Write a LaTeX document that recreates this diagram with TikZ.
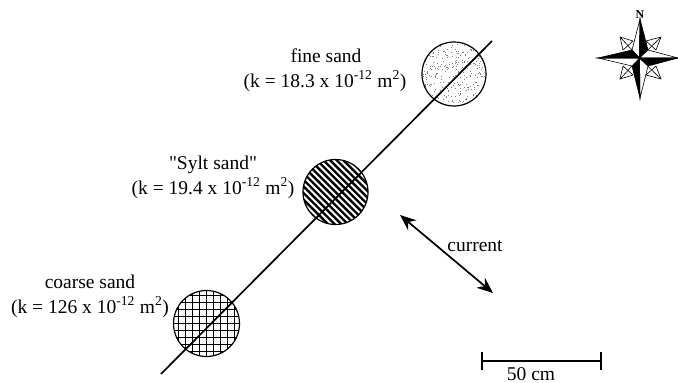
\documentclass[tikz,border=0pt]{standalone}
\usepackage{fontspec}
\setmainfont{Liberation Serif}
\newfontfamily\lblfont{Liberation Serif}
\usetikzlibrary{arrows.meta,calc}
\tikzset{
  lbl/.style={font=\lblfont\fontsize{19.5}{22}\selectfont, anchor=base, inner sep=0pt},
  sample/.style={circle, draw=black, line width=1.2pt, minimum size=#1, inner sep=0pt},
  ink/.style={line width=1.7pt, black},
  hatch/.style={line width=2.4pt, black},
  grid line/.style={line width=1.6pt, black},
  star line/.style={line width=0.6pt, black, line join=miter},
  bar/.style={line width=2.2pt, black}
}
\newcommand{\kval}[1]{(k = #1 x 10\textsuperscript{-12} m\textsuperscript{2})}
\begin{document}
\begin{tikzpicture}[x=1pt,y=-1pt]
\useasboundingbox (0,0) rectangle (678,383);
% fine sand
\node[sample=64pt, path picture={
  \pgfmathsetseed{42}
  \foreach \i in {1,...,300}{
    \pgfmathsetmacro{\dx}{round(rnd*56)*1.1-31}
    \pgfmathsetmacro{\dy}{round(rnd*56)*1.1-31}
    \fill[black!50] (\dx,\dy) rectangle ++(0.9,0.9);
  }}] (fine) at (454,74) {};
% Sylt sand
\node[sample=65pt, path picture={
  \foreach \s in {-17,...,17}{
    \draw[hatch] (-50+\s*3.3,-50-\s*3.3) -- ++(100,100);
  }}] (sylt) at (335.5,192) {};
% coarse sand
\node[sample=66pt, path picture={
  \foreach \s in {-6,...,6}{
    \draw[grid line] (\s*7,-40) -- (\s*7,40);
    \draw[grid line] (-40,\s*7) -- (40,\s*7);
  }}] (coarse) at (206.5,323.5) {};
% transect
\coordinate (tA) at (161,374);
\coordinate (tB) at (492,41);
\draw[ink] (tA) -- (tB);
% labels
\node[lbl] (lf1) at (326,62) {fine sand};
\node[lbl] (lf2) at (325,87) {\kval{18.3}};
\node[lbl] (ls1) at (213,169) {"Sylt sand"};
\node[lbl] (ls2) at (213,194) {\kval{19.4}};
\node[lbl] (lc1) at (90,288) {coarse sand};
\node[lbl] (lc2) at (90,313) {\kval{126}};
% current
\coordinate (cA) at (400,215);
\coordinate (cB) at (493,293);
\draw[ink, {Stealth[length=16pt,width=13pt]}-{Stealth[length=16pt,width=13pt]}] (cA) -- (cB);
\node[lbl] (cur) at (475,251) {current};
% scale bar
\coordinate (sA) at (482,361);
\coordinate (sB) at (601,361);
\draw[bar] (sA) -- (sB);
\draw[bar] ($(sA)+(0,-9)$) -- ($(sA)+(0,9)$);
\draw[bar] ($(sB)+(0,-9)$) -- ($(sB)+(0,9)$);
\node[lbl] (sc) at (531,380) {50 cm};
% compass
\node[font=\lblfont\fontsize{12}{12}\selectfont\bfseries, inner sep=0pt] (north) at (640,14.5) {N};
\coordinate (o) at (639.5,58);
\draw[star line, fill=white] (661,37) -- (646,41) -- (656,50) -- cycle;
\draw[star line, fill=white] (620,37) -- (633,41) -- (623,50) -- cycle;
\draw[star line, fill=white] (661,79) -- (656,66) -- (646,75) -- cycle;
\draw[star line, fill=white] (620,79) -- (623,66) -- (633,75) -- cycle;
\draw[star line] (661,37) -- (o) (620,37) -- (o) (661,79) -- (o) (620,79) -- (o);
\draw[star line, fill=white] (640,19) -- (632,50) -- (o) -- cycle;
\draw[star line, fill=black] (640,19) -- (648,50) -- (o) -- cycle;
\draw[star line, fill=white] (640,98) -- (648,66) -- (o) -- cycle;
\draw[star line, fill=black] (640,98) -- (632,66) -- (o) -- cycle;
\draw[star line, fill=white] (678,58) -- (648,50) -- (o) -- cycle;
\draw[star line, fill=black] (678,58) -- (648,66) -- (o) -- cycle;
\draw[star line, fill=white] (598,58) -- (632,66) -- (o) -- cycle;
\draw[star line, fill=black] (598,58) -- (632,50) -- (o) -- cycle;
\end{tikzpicture}
\end{document}
